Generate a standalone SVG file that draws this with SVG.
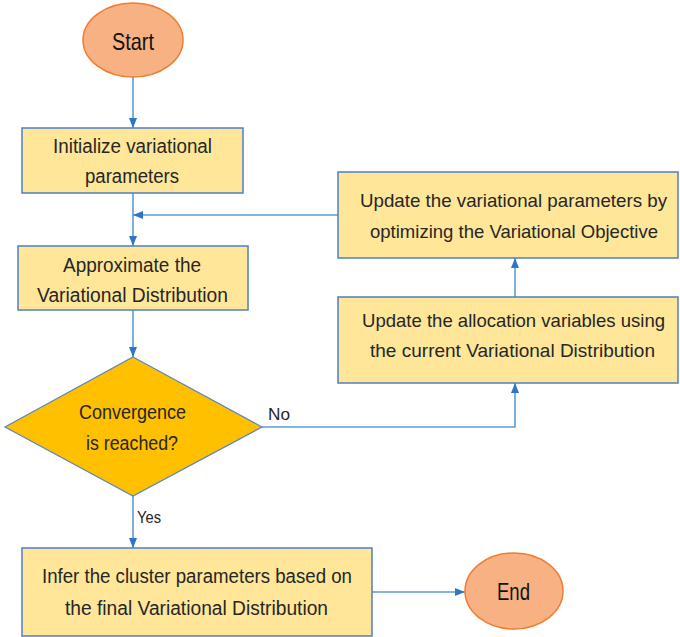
<svg xmlns="http://www.w3.org/2000/svg" width="680" height="637" viewBox="0 0 680 637">
<defs>
<style>
.box{fill:#FFE699;stroke:#4F7FC4;stroke-width:1.5}
.term{fill:#F8B183;stroke:#ED7D31;stroke-width:1.5}
.dec{fill:#FFC000;stroke:#5B86C0;stroke-width:1.2}
.t{font-family:"Liberation Sans",Arial,sans-serif;font-size:20px;fill:#262626;text-anchor:middle}
.tr{font-size:18.5px}
.tl{font-family:"Liberation Sans",Arial,sans-serif;font-size:17px;fill:#262626}
.tt{font-family:"Liberation Sans",Arial,sans-serif;font-size:24px;fill:#111;text-anchor:middle}
.c{fill:none;stroke:#5B9BD5;stroke-width:1.6}
</style>
<marker id="ah" markerUnits="userSpaceOnUse" markerWidth="10" markerHeight="10" viewBox="0 0 10 10" refX="10" refY="5" orient="auto">
<path d="M0,1 L10,5 L0,9 Z" fill="#2E75C6"/>
</marker>
</defs>

<g id="connectors">
<path class="c" d="M133,77 L133,128" marker-end="url(#ah)"/>
<path class="c" d="M133,193 L133,246" marker-end="url(#ah)"/>
<path class="c" d="M338,215 L133,215" marker-end="url(#ah)"/>
<path class="c" d="M133,310 L133,357" marker-end="url(#ah)"/>
<path class="c" d="M262,427 L515,427 L515,383" marker-end="url(#ah)"/>
<path class="c" d="M515,297 L515,258" marker-end="url(#ah)"/>
<path class="c" d="M133,496 L133,548" marker-end="url(#ah)"/>
<path class="c" d="M372,592 L465,592" marker-end="url(#ah)"/>
<text class="tl" x="268" y="420" textLength="22" lengthAdjust="spacingAndGlyphs">No</text>
<text class="tl" x="137" y="523" textLength="24" lengthAdjust="spacingAndGlyphs">Yes</text>
</g>

<g id="start">
<ellipse class="term" cx="133" cy="40" rx="50" ry="37"/>
<text class="tt" x="133" y="50" textLength="42" lengthAdjust="spacingAndGlyphs">Start</text>
</g>

<g id="init">
<rect class="box" x="22" y="128" width="221" height="65"/>
<text class="t" x="132.5" y="153" textLength="159" lengthAdjust="spacingAndGlyphs">Initialize variational</text>
<text class="t" x="132" y="183" textLength="94" lengthAdjust="spacingAndGlyphs">parameters</text>
</g>

<g id="approx">
<rect class="box" x="18" y="246" width="230" height="64"/>
<text class="t" x="132" y="272" textLength="138" lengthAdjust="spacingAndGlyphs">Approximate the</text>
<text class="t" x="132.5" y="302" textLength="191" lengthAdjust="spacingAndGlyphs">Variational Distribution</text>
</g>

<g id="convergence">
<polygon class="dec" points="133,357 262,427 133,496 5,427"/>
<text class="t" x="132.5" y="419" textLength="107" lengthAdjust="spacingAndGlyphs">Convergence</text>
<text class="t" x="132" y="450" textLength="92" lengthAdjust="spacingAndGlyphs">is reached?</text>
</g>

<g id="update-params">
<rect class="box" x="338" y="172" width="340" height="86"/>
<text class="t tr" x="513.5" y="207" textLength="307" lengthAdjust="spacingAndGlyphs">Update the variational parameters by</text>
<text class="t tr" x="514" y="238" textLength="288" lengthAdjust="spacingAndGlyphs">optimizing the Variational Objective</text>
</g>

<g id="update-alloc">
<rect class="box" x="338" y="297" width="340" height="86"/>
<text class="t tr" x="513.5" y="327" textLength="303" lengthAdjust="spacingAndGlyphs">Update the allocation variables using</text>
<text class="t tr" x="512.5" y="357" textLength="285" lengthAdjust="spacingAndGlyphs">the current Variational Distribution</text>
</g>

<g id="infer">
<rect class="box" x="22" y="548" width="350" height="88"/>
<text class="t" x="197" y="583" textLength="310" lengthAdjust="spacingAndGlyphs">Infer the cluster parameters based on</text>
<text class="t" x="196.5" y="615" textLength="263" lengthAdjust="spacingAndGlyphs">the final Variational Distribution</text>
</g>

<g id="end">
<ellipse class="term" cx="514" cy="591" rx="49" ry="38"/>
<text class="tt" x="513.5" y="600" textLength="33" lengthAdjust="spacingAndGlyphs">End</text>
</g>
</svg>
